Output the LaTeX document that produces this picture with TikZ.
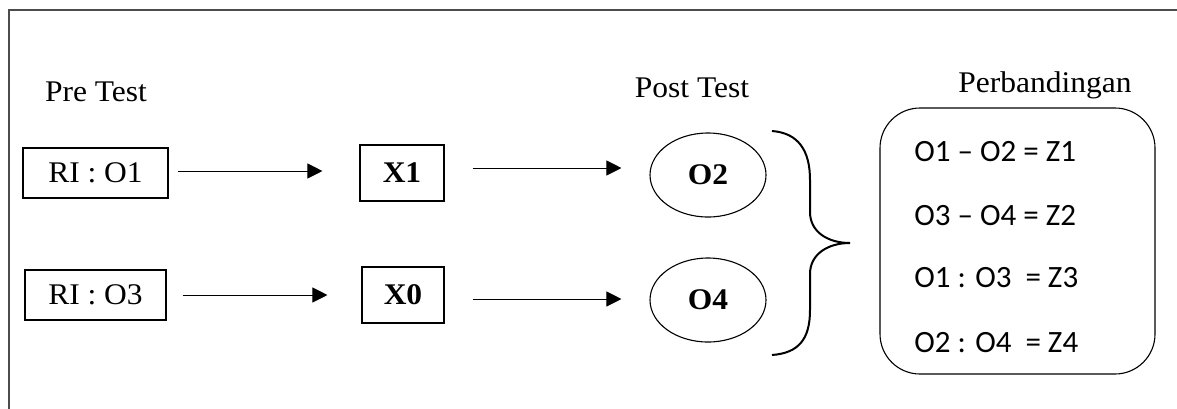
\documentclass[tikz,border=0pt]{standalone}
\usepackage{fontspec}
\setmainfont{Liberation Serif}[FakeStretch=1.05]
\newfontfamily\calfont{Carlito}
\usetikzlibrary{arrows.meta,shapes.geometric}
\begin{document}
\begin{tikzpicture}[x=0.5pt,y=-0.5pt,
  txt/.style={font=\fontsize{15}{18}\selectfont, inner sep=0pt},
  box/.style={draw, line width=0.55pt, inner sep=0pt, font=\fontsize{15}{18}\selectfont},
  oval/.style={draw, ellipse, line width=0.55pt, inner sep=0pt, minimum width=58pt, minimum height=42pt, font=\bfseries\fontsize{15}{18}\selectfont},
  eq/.style={font=\calfont\fontsize{15.5}{18}\selectfont, inner sep=0pt},
  arr/.style={line width=0.5pt, -{Triangle[length=7.5pt,width=7.5pt]}},
  frame/.style={draw=black!70, line width=0.6pt}
]
\useasboundingbox (0,0) rectangle (1177,408);
\draw[frame] (9,412) -- (9,10) -- (1180,10);

\node[txt, anchor=base] (pre) at (96,101) {Pre Test};
\node[txt, anchor=base] (post) at (692,97) {Post Test};
\node[txt, anchor=base] (perb) at (1045,92) {Perbandingan};

\node[box, minimum width=72.5pt, minimum height=25pt] (r1) at (95.5,173) {RI : O1};
\node[box, minimum width=70.5pt, minimum height=25pt] (r3) at (95.5,295) {RI : O3};
\node[box, minimum width=42pt, minimum height=28pt, font=\bfseries\fontsize{15}{18}\selectfont] (x1) at (402,173) {X1};
\node[box, minimum width=41pt, minimum height=28pt, font=\bfseries\fontsize{15}{18}\selectfont] (x0) at (403,295) {X0};
\node[oval] (o2) at (708,175) {O2};
\node[oval] (o4) at (708,300) {O4};

\draw[arr] ([xshift=4.5pt,yshift=1pt]r1.east) -- ([xshift=-18.5pt,yshift=1pt]x1.west);
\draw[arr] ([xshift=8pt]r3.east) -- ([xshift=-17pt]x0.west);
\draw[arr] ([xshift=14pt,yshift=2.5pt]x1.east) -- ([xshift=-14pt,yshift=3.5pt]o2.west);
\draw[arr] ([xshift=14pt,yshift=-2pt]x0.east) -- ([xshift=-14pt,yshift=0.5pt]o4.west);

\draw[line width=1pt] (772,131) .. controls (798,133) and (810,150) .. (810,180)
  -- (810,212) .. controls (810,232) and (828,243) .. (850,243)
  .. controls (828,243) and (810,254) .. (810,274)
  -- (810,310) .. controls (810,340) and (798,353) .. (772,355);

\node[draw, line width=0.55pt, rounded corners=20pt, minimum width=137.5pt, minimum height=133pt, inner sep=0pt] (cmp) at (1017.5,241) {};
\node[eq, anchor=base west] (e1) at (914,161) {O1 – O2 = Z1};
\node[eq, anchor=base west] (e2) at (914,225) {O3 – O4 = Z2};
\node[eq, anchor=base west] (e3) at (914,287) {O1 : O3\ \ = Z3};
\node[eq, anchor=base west] (e4) at (914,352) {O2 : O4\ \ = Z4};
\end{tikzpicture}
\end{document}
